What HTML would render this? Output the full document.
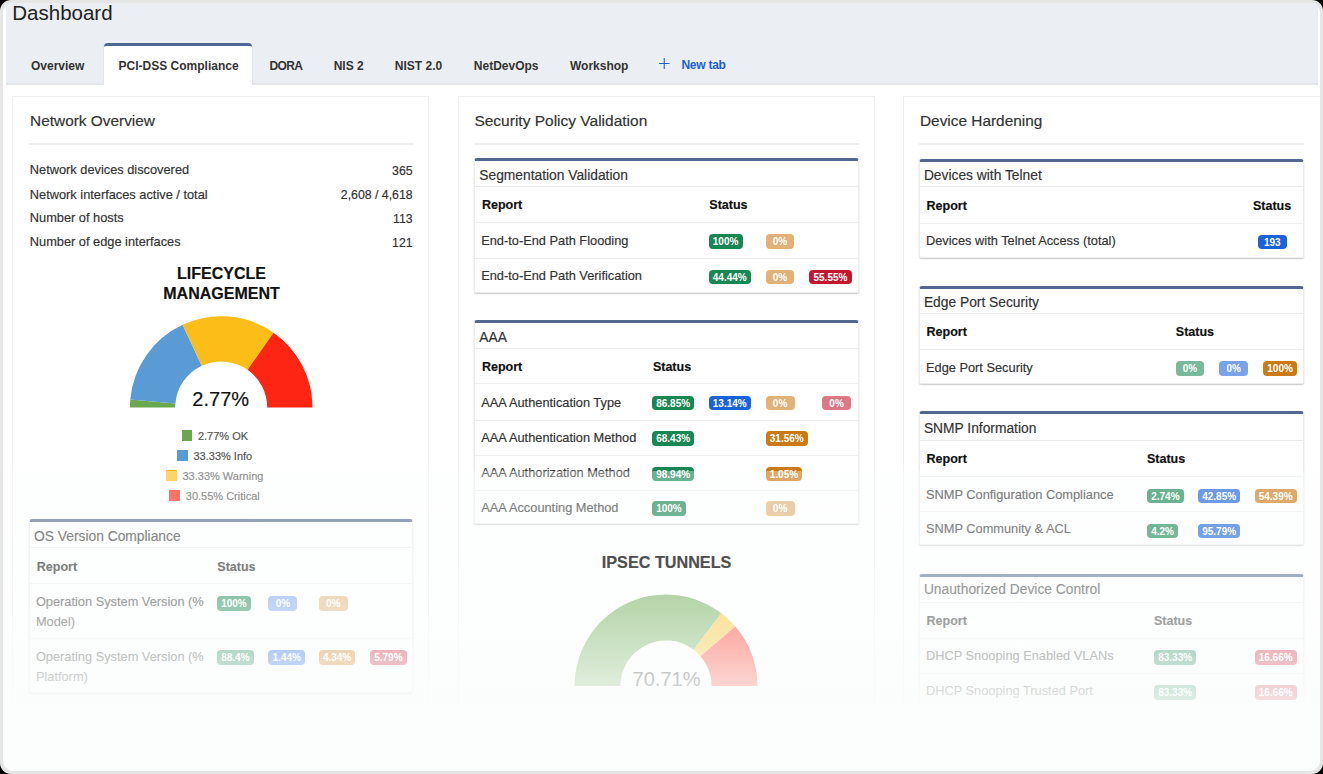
<!DOCTYPE html>
<html><head><meta charset="utf-8"><style>
html,body{margin:0;padding:0;background:#000;}
body{width:1323px;height:774px;position:relative;overflow:hidden;font-family:"Liberation Sans", sans-serif;}
#frame{position:absolute;left:0;top:0;width:1323px;height:774px;border-radius:11px;background:#e6e6e6;}
#inner{position:absolute;left:3px;top:3px;width:1317px;height:768px;border-radius:10px;background:#fcfefd;overflow:hidden;}
#app{position:absolute;left:-3px;top:-3px;width:1323px;height:703px;overflow:hidden;background:#fff;}
.t{position:absolute;white-space:nowrap;color:#333;-webkit-text-stroke:0.18px currentColor;}
.bd{position:absolute;height:14.5px;line-height:16.5px;padding:0 4.2px;min-width:20.6px;text-align:center;border-radius:4px;color:#fff;font-weight:700;font-size:10px;white-space:nowrap;}
#fade{position:absolute;left:0;top:471px;width:1323px;height:232px;background:linear-gradient(to bottom, rgba(251,253,252,0.35) 0px, rgba(251,253,252,0.37) 37px, rgba(251,253,252,0.45) 90px, rgba(251,253,252,0.52) 126px, rgba(251,253,252,0.66) 169px, rgba(251,253,252,0.81) 214px, rgba(251,253,252,0.87) 232px);}
</style></head><body>
<div id="frame"><div id="inner"><div id="app">
<div style="position:absolute;left:6.00px;top:3.00px;width:1312.00px;height:80.00px;background:#ebeef2;"></div>
<div style="position:absolute;left:6.00px;top:83.00px;width:1312.00px;height:2.00px;background:#e3e5e9;"></div>
<div class="t" style="top:3.35px;font-size:20.5px;line-height:20.5px;color:#222;left:12.30px;-webkit-text-stroke:0;">Dashboard</div>
<div style="position:absolute;left:103.50px;top:43.00px;width:148.50px;height:42.00px;background:#fff;border-top:3px solid #4e6795;border-radius:4px 4px 0 0;box-shadow:1px 0 0 #e3e5ea,-1px 0 0 #e3e5ea;box-sizing:border-box;"></div>
<div class="t" style="top:60.14px;font-size:12px;line-height:12px;font-weight:700;left:31.00px;-webkit-text-stroke:0;">Overview</div>
<div class="t" style="top:60.14px;font-size:12px;line-height:12px;font-weight:700;left:118.60px;-webkit-text-stroke:0;">PCI-DSS Compliance</div>
<div class="t" style="top:60.14px;font-size:12px;line-height:12px;font-weight:700;letter-spacing:-0.6px;left:269.40px;-webkit-text-stroke:0;">DORA</div>
<div class="t" style="top:60.14px;font-size:12px;line-height:12px;font-weight:700;left:333.70px;-webkit-text-stroke:0;">NIS 2</div>
<div class="t" style="top:60.14px;font-size:12px;line-height:12px;font-weight:700;left:394.80px;-webkit-text-stroke:0;">NIST 2.0</div>
<div class="t" style="top:60.14px;font-size:12px;line-height:12px;font-weight:700;left:473.80px;-webkit-text-stroke:0;">NetDevOps</div>
<div class="t" style="top:60.14px;font-size:12px;line-height:12px;font-weight:700;left:570.00px;-webkit-text-stroke:0;">Workshop</div>
<svg style="position:absolute;left:659px;top:58px" width="11" height="11" viewBox="0 0 11 11"><path d="M5.25 0V11M0 5.5H10.5" stroke="#1c60d6" stroke-width="1.1"/></svg>
<div class="t" style="top:58.64px;font-size:12px;line-height:12px;font-weight:700;color:#1a5fd6;letter-spacing:-0.25px;left:681.40px;-webkit-text-stroke:0;">New tab</div>
<div style="position:absolute;left:12.00px;top:96.00px;width:417.00px;height:620.00px;border:1px solid #f0f0f0;box-sizing:border-box;background:#fff;"></div>
<div style="position:absolute;left:458.00px;top:96.00px;width:417.00px;height:620.00px;border:1px solid #f0f0f0;box-sizing:border-box;background:#fff;"></div>
<div style="position:absolute;left:903.00px;top:96.00px;width:420.00px;height:620.00px;border:1px solid #f0f0f0;box-sizing:border-box;background:#fff;"></div>
<div class="t" style="top:112.56px;font-size:15.4px;line-height:15.4px;left:30.10px;">Network Overview</div>
<div class="t" style="top:112.98px;font-size:15.5px;line-height:15.5px;left:474.40px;">Security Policy Validation</div>
<div class="t" style="top:113.06px;font-size:15.4px;line-height:15.4px;left:920.00px;">Device Hardening</div>
<div style="position:absolute;left:28.70px;top:143.00px;width:385.00px;height:1.50px;background:#eeeeee;"></div>
<div style="position:absolute;left:474.00px;top:143.00px;width:385.00px;height:1.50px;background:#eeeeee;"></div>
<div style="position:absolute;left:919.00px;top:143.00px;width:385.00px;height:1.50px;background:#eeeeee;"></div>
<div class="t" style="top:164.36px;font-size:12.8px;line-height:12.8px;left:29.80px;">Network devices discovered</div>
<div class="t" style="top:164.79px;font-size:12.3px;line-height:12.3px;right:910.40px;">365</div>
<div class="t" style="top:188.56px;font-size:12.8px;line-height:12.8px;left:29.80px;">Network interfaces active / total</div>
<div class="t" style="top:188.99px;font-size:12.3px;line-height:12.3px;right:910.40px;">2,608 / 4,618</div>
<div class="t" style="top:212.36px;font-size:12.8px;line-height:12.8px;left:29.80px;">Number of hosts</div>
<div class="t" style="top:212.79px;font-size:12.3px;line-height:12.3px;right:910.40px;">113</div>
<div class="t" style="top:236.46px;font-size:12.8px;line-height:12.8px;left:29.80px;">Number of edge interfaces</div>
<div class="t" style="top:236.89px;font-size:12.3px;line-height:12.3px;right:910.40px;">121</div>
<div class="t" style="top:265.56px;font-size:16px;line-height:16px;font-weight:700;color:#111;left:-78.50px;width:600px;text-align:center;">LIFECYCLE</div>
<div class="t" style="top:285.56px;font-size:16px;line-height:16px;font-weight:700;color:#111;left:-78.50px;width:600px;text-align:center;">MANAGEMENT</div>
<svg style="position:absolute;left:0;top:0" width="1323" height="774"><path d="M129.90 407.50A91.3 91.3 0 0 1 130.25 399.54L175.38 403.49A46 46 0 0 0 175.20 407.50Z" fill="#6aa84f"/><path d="M130.25 399.54A91.3 91.3 0 0 1 182.61 324.75L201.76 365.81A46 46 0 0 0 175.38 403.49Z" fill="#5b9bd5"/><path d="M182.61 324.75A91.3 91.3 0 0 1 273.57 332.71L247.58 369.82A46 46 0 0 0 201.76 365.81Z" fill="#fdbd19"/><path d="M273.57 332.71A91.3 91.3 0 0 1 312.50 407.50L267.20 407.50A46 46 0 0 0 247.58 369.82Z" fill="#ff2515"/><path d="M574.60 686.00A91.4 91.4 0 0 1 721.39 613.29L693.63 649.73A45.6 45.6 0 0 0 620.40 686.00Z" fill="#6aa84f"/><path d="M721.39 613.29A91.4 91.4 0 0 1 735.29 626.40L700.57 656.26A45.6 45.6 0 0 0 693.63 649.73Z" fill="#fdbd19"/><path d="M735.29 626.40A91.4 91.4 0 0 1 757.40 686.00L711.60 686.00A45.6 45.6 0 0 0 700.57 656.26Z" fill="#ff2515"/></svg>
<div class="t" style="top:389.17px;font-size:20px;line-height:20px;color:#111;left:-79.30px;width:600px;text-align:center;">2.77%</div>
<div style="position:absolute;left:181.70px;top:430.40px;width:10.50px;height:10.50px;background:#6aa84f;"></div>
<div class="t" style="top:430.99px;font-size:11px;line-height:11px;color:#555;left:197.90px;">2.77% OK</div>
<div style="position:absolute;left:177.00px;top:450.20px;width:10.50px;height:10.50px;background:#5b9bd5;"></div>
<div class="t" style="top:450.79px;font-size:11px;line-height:11px;color:#555;left:193.50px;">33.33% Info</div>
<div style="position:absolute;left:166.00px;top:470.30px;width:10.50px;height:10.50px;background:#fdbd19;"></div>
<div class="t" style="top:470.79px;font-size:11px;line-height:11px;color:#555;left:182.50px;">33.33% Warning</div>
<div style="position:absolute;left:169.30px;top:490.30px;width:10.50px;height:10.50px;background:#ff2515;"></div>
<div class="t" style="top:490.79px;font-size:11px;line-height:11px;color:#555;left:185.80px;">30.55% Critical</div>
<div style="position:absolute;left:28.80px;top:519.30px;width:384.70px;height:173.70px;background:#fff;border:1px solid #ededed;border-top:3px solid #54688f;border-radius:3px 3px 2px 2px;box-sizing:border-box;box-shadow:0 1px 1.5px rgba(0,0,0,.22);"></div>
<div style="position:absolute;left:29.80px;top:547.30px;width:382.70px;height:1.00px;background:#ececec;"></div>
<div style="position:absolute;left:29.80px;top:583.00px;width:382.70px;height:1.00px;background:#efefef;"></div>
<div style="position:absolute;left:29.80px;top:637.80px;width:382.70px;height:1.00px;background:#efefef;"></div>
<div class="t" style="top:529.52px;font-size:13.8px;line-height:13.8px;left:34.10px;">OS Version Compliance</div>
<div class="t" style="top:560.92px;font-size:12.5px;line-height:12.5px;font-weight:700;color:#111;left:36.80px;">Report</div>
<div class="t" style="top:560.92px;font-size:12.5px;line-height:12.5px;font-weight:700;color:#111;left:217.30px;">Status</div>
<div class="t" style="top:596.26px;font-size:12.8px;line-height:12.8px;left:35.90px;">Operation System Version (%</div>
<div class="t" style="top:615.96px;font-size:12.8px;line-height:12.8px;left:35.90px;">Model)</div>
<div class="t" style="top:650.96px;font-size:12.8px;line-height:12.8px;left:35.90px;">Operating System Version (%</div>
<div class="t" style="top:670.76px;font-size:12.8px;line-height:12.8px;left:35.90px;">Platform)</div>
<div class="bd" style="left:217.00px;top:596.00px;background:#198754;">100%</div>
<div class="bd" style="left:268.40px;top:596.00px;background:#1a62d9;opacity:.58;">0%</div>
<div class="bd" style="left:318.70px;top:596.00px;background:#cc7a16;opacity:.58;">0%</div>
<div class="bd" style="left:217.00px;top:650.30px;background:#198754;">88.4%</div>
<div class="bd" style="left:268.40px;top:650.30px;background:#1a62d9;">1.44%</div>
<div class="bd" style="left:318.70px;top:650.30px;background:#cc7a16;">4.34%</div>
<div class="bd" style="left:370.00px;top:650.30px;background:#c3172f;">5.79%</div>
<div style="position:absolute;left:474.00px;top:158.00px;width:384.50px;height:134.50px;background:#fff;border:1px solid #ededed;border-top:3px solid #54688f;border-radius:3px 3px 2px 2px;box-sizing:border-box;box-shadow:0 1px 1.5px rgba(0,0,0,.22);"></div>
<div style="position:absolute;left:475.00px;top:186.20px;width:382.50px;height:1.00px;background:#ececec;"></div>
<div style="position:absolute;left:475.00px;top:222.30px;width:382.50px;height:1.00px;background:#efefef;"></div>
<div style="position:absolute;left:475.00px;top:258.00px;width:382.50px;height:1.00px;background:#efefef;"></div>
<div class="t" style="top:168.62px;font-size:13.8px;line-height:13.8px;left:479.30px;">Segmentation Validation</div>
<div class="t" style="top:199.32px;font-size:12.5px;line-height:12.5px;font-weight:700;color:#111;left:482.00px;">Report</div>
<div class="t" style="top:199.32px;font-size:12.5px;line-height:12.5px;font-weight:700;color:#111;left:709.30px;">Status</div>
<div class="t" style="top:235.26px;font-size:12.8px;line-height:12.8px;left:481.20px;">End-to-End Path Flooding</div>
<div class="t" style="top:270.16px;font-size:12.8px;line-height:12.8px;left:481.20px;">End-to-End Path Verification</div>
<div class="bd" style="left:708.60px;top:234.30px;background:#198754;">100%</div>
<div class="bd" style="left:765.50px;top:234.30px;background:#cc7a16;opacity:.58;">0%</div>
<div class="bd" style="left:708.60px;top:269.70px;background:#198754;">44.44%</div>
<div class="bd" style="left:765.50px;top:269.70px;background:#cc7a16;opacity:.58;">0%</div>
<div class="bd" style="left:809.30px;top:269.70px;background:#c3172f;">55.55%</div>
<div style="position:absolute;left:474.00px;top:320.40px;width:384.50px;height:203.60px;background:#fff;border:1px solid #ededed;border-top:3px solid #54688f;border-radius:3px 3px 2px 2px;box-sizing:border-box;box-shadow:0 1px 1.5px rgba(0,0,0,.22);"></div>
<div style="position:absolute;left:475.00px;top:348.30px;width:382.50px;height:1.00px;background:#ececec;"></div>
<div style="position:absolute;left:475.00px;top:383.00px;width:382.50px;height:1.00px;background:#efefef;"></div>
<div style="position:absolute;left:475.00px;top:419.70px;width:382.50px;height:1.00px;background:#efefef;"></div>
<div style="position:absolute;left:475.00px;top:454.70px;width:382.50px;height:1.00px;background:#efefef;"></div>
<div style="position:absolute;left:475.00px;top:490.00px;width:382.50px;height:1.00px;background:#efefef;"></div>
<div class="t" style="top:330.52px;font-size:13.8px;line-height:13.8px;left:479.30px;">AAA</div>
<div class="t" style="top:360.82px;font-size:12.5px;line-height:12.5px;font-weight:700;color:#111;left:482.00px;">Report</div>
<div class="t" style="top:360.82px;font-size:12.5px;line-height:12.5px;font-weight:700;color:#111;left:652.90px;">Status</div>
<div class="t" style="top:396.66px;font-size:12.8px;line-height:12.8px;left:481.20px;">AAA Authentication Type</div>
<div class="t" style="top:431.96px;font-size:12.8px;line-height:12.8px;left:481.20px;">AAA Authentication Method</div>
<div class="t" style="top:466.96px;font-size:12.8px;line-height:12.8px;left:481.20px;">AAA Authorization Method</div>
<div class="t" style="top:502.16px;font-size:12.8px;line-height:12.8px;left:481.20px;">AAA Accounting Method</div>
<div class="bd" style="left:652.00px;top:395.90px;background:#198754;">86.85%</div>
<div class="bd" style="left:708.60px;top:395.90px;background:#1a62d9;">13.14%</div>
<div class="bd" style="left:765.60px;top:395.90px;background:#cc7a16;opacity:.58;">0%</div>
<div class="bd" style="left:822.10px;top:395.90px;background:#c3172f;opacity:.58;">0%</div>
<div class="bd" style="left:652.00px;top:431.00px;background:#198754;">68.43%</div>
<div class="bd" style="left:765.60px;top:431.00px;background:#cc7a16;">31.56%</div>
<div class="bd" style="left:652.00px;top:466.50px;background:#198754;">98.94%</div>
<div class="bd" style="left:765.60px;top:466.50px;background:#cc7a16;">1.05%</div>
<div class="bd" style="left:652.00px;top:501.10px;background:#198754;">100%</div>
<div class="bd" style="left:765.60px;top:501.10px;background:#cc7a16;opacity:.58;">0%</div>
<div class="t" style="top:669.07px;font-size:20px;line-height:20px;color:#111;left:366.50px;width:600px;text-align:center;">70.71%</div>
<div style="position:absolute;left:918.60px;top:158.70px;width:385.00px;height:98.90px;background:#fff;border:1px solid #ededed;border-top:3px solid #54688f;border-radius:3px 3px 2px 2px;box-sizing:border-box;box-shadow:0 1px 1.5px rgba(0,0,0,.22);"></div>
<div style="position:absolute;left:919.60px;top:186.30px;width:383.00px;height:1.00px;background:#ececec;"></div>
<div style="position:absolute;left:919.60px;top:222.90px;width:383.00px;height:1.00px;background:#efefef;"></div>
<div class="t" style="top:168.62px;font-size:13.8px;line-height:13.8px;left:923.90px;">Devices with Telnet</div>
<div class="t" style="top:199.72px;font-size:12.5px;line-height:12.5px;font-weight:700;color:#111;left:926.60px;">Report</div>
<div class="t" style="top:199.72px;font-size:12.5px;line-height:12.5px;font-weight:700;color:#111;left:1253.00px;">Status</div>
<div class="t" style="top:234.56px;font-size:12.8px;line-height:12.8px;left:926.00px;">Devices with Telnet Access (total)</div>
<div class="bd" style="left:1257.80px;top:234.50px;background:#1a62d9;">193</div>
<div style="position:absolute;left:918.60px;top:285.50px;width:385.00px;height:98.50px;background:#fff;border:1px solid #ededed;border-top:3px solid #54688f;border-radius:3px 3px 2px 2px;box-sizing:border-box;box-shadow:0 1px 1.5px rgba(0,0,0,.22);"></div>
<div style="position:absolute;left:919.60px;top:313.40px;width:383.00px;height:1.00px;background:#ececec;"></div>
<div style="position:absolute;left:919.60px;top:349.00px;width:383.00px;height:1.00px;background:#efefef;"></div>
<div class="t" style="top:295.72px;font-size:13.8px;line-height:13.8px;left:923.90px;">Edge Port Security</div>
<div class="t" style="top:326.22px;font-size:12.5px;line-height:12.5px;font-weight:700;color:#111;left:926.60px;">Report</div>
<div class="t" style="top:326.22px;font-size:12.5px;line-height:12.5px;font-weight:700;color:#111;left:1175.80px;">Status</div>
<div class="t" style="top:361.66px;font-size:12.8px;line-height:12.8px;left:926.00px;">Edge Port Security</div>
<div class="bd" style="left:1175.50px;top:361.00px;background:#198754;opacity:.58;">0%</div>
<div class="bd" style="left:1219.20px;top:361.00px;background:#1a62d9;opacity:.58;">0%</div>
<div class="bd" style="left:1263.10px;top:361.00px;background:#cc7a16;">100%</div>
<div style="position:absolute;left:918.60px;top:411.40px;width:385.00px;height:134.10px;background:#fff;border:1px solid #ededed;border-top:3px solid #54688f;border-radius:3px 3px 2px 2px;box-sizing:border-box;box-shadow:0 1px 1.5px rgba(0,0,0,.22);"></div>
<div style="position:absolute;left:919.60px;top:440.00px;width:383.00px;height:1.00px;background:#ececec;"></div>
<div style="position:absolute;left:919.60px;top:475.70px;width:383.00px;height:1.00px;background:#efefef;"></div>
<div style="position:absolute;left:919.60px;top:510.80px;width:383.00px;height:1.00px;background:#efefef;"></div>
<div class="t" style="top:421.82px;font-size:13.8px;line-height:13.8px;left:923.90px;">SNMP Information</div>
<div class="t" style="top:452.52px;font-size:12.5px;line-height:12.5px;font-weight:700;color:#111;left:926.60px;">Report</div>
<div class="t" style="top:452.52px;font-size:12.5px;line-height:12.5px;font-weight:700;color:#111;left:1147.00px;">Status</div>
<div class="t" style="top:488.56px;font-size:12.8px;line-height:12.8px;left:926.00px;">SNMP Configuration Compliance</div>
<div class="t" style="top:523.06px;font-size:12.8px;line-height:12.8px;left:926.00px;">SNMP Community &amp; ACL</div>
<div class="bd" style="left:1147.00px;top:488.50px;background:#198754;">2.74%</div>
<div class="bd" style="left:1198.00px;top:488.50px;background:#1a62d9;">42.85%</div>
<div class="bd" style="left:1254.50px;top:488.50px;background:#cc7a16;">54.39%</div>
<div class="bd" style="left:1147.00px;top:523.50px;background:#198754;">4.2%</div>
<div class="bd" style="left:1198.00px;top:523.50px;background:#1a62d9;">95.79%</div>
<div style="position:absolute;left:918.60px;top:574.40px;width:385.00px;height:145.60px;background:#fff;border:1px solid #ededed;border-top:3px solid #54688f;border-radius:3px 3px 2px 2px;box-sizing:border-box;box-shadow:0 1px 1.5px rgba(0,0,0,.22);"></div>
<div style="position:absolute;left:919.60px;top:601.70px;width:383.00px;height:1.00px;background:#ececec;"></div>
<div style="position:absolute;left:919.60px;top:637.60px;width:383.00px;height:1.00px;background:#efefef;"></div>
<div style="position:absolute;left:919.60px;top:672.70px;width:383.00px;height:1.00px;background:#efefef;"></div>
<div class="t" style="top:583.32px;font-size:13.8px;line-height:13.8px;left:923.90px;">Unauthorized Device Control</div>
<div class="t" style="top:614.62px;font-size:12.5px;line-height:12.5px;font-weight:700;color:#111;left:926.60px;">Report</div>
<div class="t" style="top:614.62px;font-size:12.5px;line-height:12.5px;font-weight:700;color:#111;left:1154.00px;">Status</div>
<div class="t" style="top:650.26px;font-size:12.8px;line-height:12.8px;left:926.00px;">DHCP Snooping Enabled VLANs</div>
<div class="t" style="top:685.46px;font-size:12.8px;line-height:12.8px;left:926.00px;">DHCP Snooping Trusted Port</div>
<div class="bd" style="left:1154.00px;top:650.00px;background:#198754;">83.33%</div>
<div class="bd" style="left:1254.50px;top:650.00px;background:#c3172f;">16.66%</div>
<div class="bd" style="left:1154.00px;top:685.00px;background:#198754;">83.33%</div>
<div class="bd" style="left:1254.50px;top:685.00px;background:#c3172f;">16.66%</div>
<div id="fade"></div>
<div class="t" style="top:553.99px;font-size:16.2px;line-height:16.2px;font-weight:700;color:#4f4f4f;left:366.60px;width:600px;text-align:center;">IPSEC TUNNELS</div>
</div></div></div>
</body></html>
